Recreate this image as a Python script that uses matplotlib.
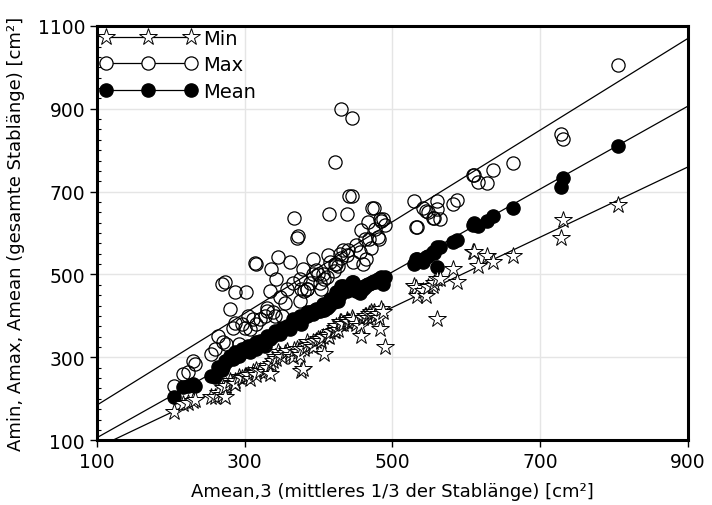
import matplotlib
matplotlib.use("Agg")
import matplotlib.pyplot as plt
from matplotlib.lines import Line2D
from matplotlib.ticker import MultipleLocator

plt.rcParams['font.family'] = ['DejaVu Sans']

# Amean,3 (x) and the three measured areas per member
amean3 = [204, 216, 223, 230, 233, 255, 260, 264, 269, 271, 273, 275, 280, 284, 287, 287,
          293, 296, 300, 302, 304, 307, 311, 314, 316, 316, 321, 327, 330, 331, 334, 336,
          338, 341, 343, 345, 348, 350, 355, 358, 361, 365, 367, 371, 372, 375, 375, 377,
          379, 381, 384, 384, 388, 392, 393, 397, 399, 402, 404, 406, 408, 411, 413, 414,
          415, 421, 422, 423, 424, 426, 429, 430, 431, 433, 438, 439, 440, 442, 445, 445,
          447, 451, 456, 458, 460, 463, 465, 467, 469, 471, 472, 475, 476, 480, 482, 483,
          485, 487, 490, 530, 532, 533, 541, 545, 548, 555, 557, 560, 560, 564, 582, 587,
          609, 611, 616, 628, 636, 663, 728, 731, 805]

a_mean = [204, 228, 230, 235, 232, 255, 252, 276, 270, 276, 292, 288, 304, 296, 312, 300,
          304, 319, 315, 322, 327, 312, 330, 330, 336, 320, 340, 328, 345, 352, 345, 350,
          352, 364, 358, 360, 356, 372, 368, 376, 368, 392, 385, 390, 388, 400, 388, 380,
          395, 397, 409, 400, 409, 412, 404, 416, 412, 412, 420, 428, 415, 420, 430, 425,
          441, 433, 440, 445, 457, 437, 450, 460, 473, 473, 460, 465, 462, 470, 465, 481,
          481, 460, 455, 470, 465, 470, 475, 477, 477, 480, 482, 485, 481, 488, 490, 488,
          494, 477, 494, 525, 537, 537, 530, 542, 545, 554, 552, 518, 566, 566, 578, 582,
          620, 625, 617, 629, 640, 661, 712, 733, 810]

a_max = [232, 259, 264, 292, 285, 308, 320, 352, 478, 336, 481, 332, 416, 372, 457, 384,
         332, 380, 372, 457, 400, 368, 392, 528, 526, 380, 392, 400, 412, 420, 460, 514,
         410, 400, 490, 541, 445, 400, 430, 465, 529, 480, 637, 589, 594, 489, 437, 465,
         513, 460, 465, 465, 480, 537, 500, 510, 501, 480, 465, 500, 490, 494, 547, 645,
         530, 509, 525, 771, 525, 520, 550, 899, 540, 560, 547, 646, 560, 689, 877, 689,
         530, 570, 554, 607, 525, 585, 537, 627, 585, 563, 660, 660, 610, 590, 585, 633,
         630, 633, 620, 677, 614, 614, 660, 654, 650, 637, 637, 677, 658, 635, 670, 679,
         741, 739, 722, 720, 751, 770, 840, 827, 1006]

a_min = [168, 187, 190, 195, 197, 204, 204, 215, 210, 225, 204, 232, 243, 238, 243, 235,
         252, 250, 255, 255, 258, 248, 264, 262, 270, 258, 267, 265, 280, 275, 259, 285,
         290, 300, 295, 312, 305, 300, 310, 316, 305, 300, 318, 320, 312, 320, 305, 267,
         271, 320, 328, 337, 330, 337, 325, 340, 344, 344, 340, 348, 308, 352, 355, 350,
         360, 364, 364, 370, 375, 365, 385, 380, 385, 380, 390, 385, 385, 385, 390, 395,
         390, 380, 375, 352, 395, 400, 400, 395, 405, 410, 405, 410, 400, 405, 395, 368,
         416, 410, 325, 473, 468, 449, 460, 449, 470, 473, 480, 392, 488, 490, 512, 481,
         554, 555, 521, 545, 530, 545, 588, 631, 668]

# regression lines (slope, intercept)
fit_min = [0.847, -3.0]
fit_max = [1.106, 74.0]
fit_mean = [1.0, 6.0]

fig = plt.figure(figsize=(7.12, 5.06), dpi=100)
ax = fig.add_axes([0.136, 0.128, 0.830, 0.819])

xl = [100, 900]
for k, b in (fit_max, fit_mean, fit_min):
    ax.plot(xl, [k * v + b for v in xl], color='black', lw=0.9, zorder=2)

ax.plot(amean3, a_mean, ls='none', marker='o', ms=9.5, mfc='black', mec='black', zorder=3)
ax.plot(amean3, a_max, ls='none', marker='o', ms=9.5, mfc='none', mec='black', mew=0.9, zorder=4)
ax.plot(amean3, a_min, ls='none', marker='*', ms=13, mfc='white', mec='black', mew=0.7, zorder=5)

ax.set_xlim(100, 900)
ax.set_ylim(100, 1100)
ax.set_xticks([100, 300, 500, 700, 900])
ax.set_yticks([100, 300, 500, 700, 900, 1100])
ax.yaxis.set_minor_locator(MultipleLocator(25))
ax.tick_params(axis='both', which='major', direction='out', length=5, width=1, labelsize=13.5)
ax.tick_params(axis='y', which='minor', direction='in', length=3, width=0.8)
ax.grid(True, which='major', color='#e5e5e5', lw=1)
ax.set_axisbelow(True)
for s in ax.spines.values():
    s.set_linewidth(2.2)

ax.set_xlabel("Amean,3 (mittleres 1/3 der Stablänge) [cm²]", fontsize=13, labelpad=8)
ax.set_ylabel("Amin, Amax, Amean (gesamte Stablänge) [cm²]", fontsize=13, labelpad=9)

handles = [
    Line2D([], [], color='black', lw=0.9, marker='*', ms=13, mfc='white', mec='black', mew=0.7),
    Line2D([], [], color='black', lw=0.9, marker='o', ms=9.5, mfc='white', mec='black', mew=0.9),
    Line2D([], [], color='black', lw=0.9, marker='o', ms=9.5, mfc='black', mec='black'),
]
ax.legend(handles, ["Min", "Max", "Mean"], loc='upper left', frameon=False, numpoints=3,
          handlelength=5.0, handletextpad=0.3, borderaxespad=0.0, borderpad=0.15,
          labelspacing=0.38, fontsize=14)

fig.savefig("out.png", dpi=100)
